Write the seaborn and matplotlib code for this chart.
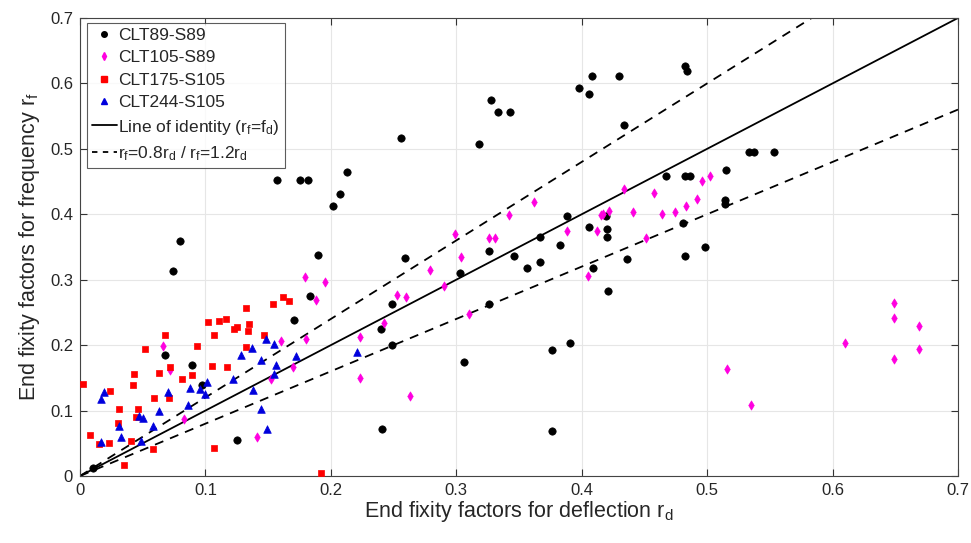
import numpy as np
import pandas as pd
import matplotlib
matplotlib.use("Agg")
import matplotlib.pyplot as plt
import seaborn as sns
from matplotlib.lines import Line2D

# ---- data ----
clt89_x = [0.010, 0.074, 0.080, 0.068, 0.089, 0.097, 0.171, 0.183, 0.190, 0.125,
           0.157, 0.175, 0.182, 0.213, 0.207, 0.202, 0.259, 0.249, 0.240, 0.249,
           0.241, 0.303, 0.326, 0.346, 0.356, 0.367, 0.367, 0.326, 0.306, 0.256,
           0.318, 0.328, 0.333, 0.343, 0.398, 0.388, 0.383, 0.408, 0.430, 0.406,
           0.482, 0.484, 0.434, 0.533, 0.537, 0.553, 0.515, 0.467, 0.482, 0.486,
           0.514, 0.514, 0.419, 0.406, 0.420, 0.420, 0.481, 0.436, 0.482, 0.498,
           0.409, 0.421, 0.376, 0.391, 0.376]
clt89_y = [0.012, 0.313, 0.359, 0.185, 0.170, 0.139, 0.238, 0.275, 0.338, 0.055,
           0.453, 0.453, 0.453, 0.464, 0.431, 0.413, 0.333, 0.263, 0.225, 0.200,
           0.072, 0.310, 0.344, 0.336, 0.318, 0.327, 0.365, 0.263, 0.174, 0.517,
           0.507, 0.574, 0.556, 0.556, 0.593, 0.398, 0.353, 0.611, 0.611, 0.584,
           0.627, 0.619, 0.537, 0.495, 0.495, 0.495, 0.467, 0.458, 0.458, 0.458,
           0.422, 0.416, 0.398, 0.381, 0.378, 0.365, 0.386, 0.331, 0.336, 0.350,
           0.318, 0.282, 0.192, 0.203, 0.069]

clt105_x = [0.066, 0.072, 0.083, 0.141, 0.152, 0.160, 0.170, 0.180, 0.179, 0.188,
            0.195, 0.242, 0.253, 0.223, 0.223, 0.260, 0.263, 0.279, 0.290, 0.299,
            0.304, 0.310, 0.326, 0.331, 0.342, 0.362, 0.388, 0.405, 0.412, 0.415,
            0.417, 0.422, 0.434, 0.441, 0.451, 0.458, 0.464, 0.474, 0.483, 0.492,
            0.496, 0.502, 0.516, 0.535, 0.610, 0.649, 0.649, 0.649, 0.669, 0.669]
clt105_y = [0.198, 0.162, 0.087, 0.060, 0.149, 0.207, 0.166, 0.210, 0.304, 0.269,
            0.297, 0.234, 0.277, 0.213, 0.150, 0.273, 0.122, 0.315, 0.291, 0.370,
            0.334, 0.248, 0.364, 0.364, 0.399, 0.419, 0.375, 0.305, 0.375, 0.399,
            0.401, 0.405, 0.438, 0.404, 0.364, 0.432, 0.401, 0.403, 0.413, 0.423,
            0.451, 0.458, 0.163, 0.109, 0.204, 0.265, 0.241, 0.179, 0.229, 0.194]

clt175_x = [0.002, 0.008, 0.015, 0.023, 0.024, 0.031, 0.030, 0.035, 0.042, 0.043,
            0.046, 0.045, 0.041, 0.052, 0.058, 0.059, 0.063, 0.068, 0.071, 0.072,
            0.081, 0.089, 0.093, 0.105, 0.102, 0.107, 0.107, 0.111, 0.116, 0.117,
            0.123, 0.125, 0.132, 0.132, 0.134, 0.135, 0.147, 0.154, 0.162, 0.167,
            0.192]
clt175_y = [0.141, 0.063, 0.049, 0.051, 0.130, 0.103, 0.081, 0.017, 0.139, 0.156,
            0.103, 0.090, 0.053, 0.194, 0.041, 0.119, 0.157, 0.215, 0.119, 0.167,
            0.149, 0.154, 0.198, 0.168, 0.236, 0.043, 0.216, 0.237, 0.240, 0.167,
            0.225, 0.228, 0.256, 0.197, 0.221, 0.233, 0.215, 0.263, 0.273, 0.268,
            0.004]

clt244_x = [0.017, 0.019, 0.017, 0.031, 0.033, 0.047, 0.050, 0.049, 0.058, 0.063,
            0.070, 0.086, 0.088, 0.096, 0.101, 0.100, 0.122, 0.128, 0.137, 0.138,
            0.144, 0.144, 0.148, 0.149, 0.155, 0.156, 0.155, 0.172, 0.221]
clt244_y = [0.118, 0.129, 0.052, 0.076, 0.060, 0.091, 0.089, 0.053, 0.076, 0.100,
            0.129, 0.108, 0.135, 0.133, 0.144, 0.125, 0.148, 0.185, 0.195, 0.131,
            0.177, 0.102, 0.210, 0.072, 0.201, 0.170, 0.156, 0.183, 0.189]

series_names = ["CLT89-S89", "CLT105-S89", "CLT175-S105", "CLT244-S105"]
xs = [clt89_x, clt105_x, clt175_x, clt244_x]
ys = [clt89_y, clt105_y, clt175_y, clt244_y]

x_ticks = [0, 0.1, 0.2, 0.3, 0.4, 0.5, 0.6, 0.7]
y_ticks = [0, 0.1, 0.2, 0.3, 0.4, 0.5, 0.6, 0.7]
ratio_lo, ratio_hi = 0.8, 1.2

df = pd.concat([pd.DataFrame({"rd": x, "rf": y, "series": n})
                for x, y, n in zip(xs, ys, series_names)], ignore_index=True)

# ---- style ----
sns.set_theme(style="white")
plt.rcParams["font.family"] = ["Liberation Sans", "DejaVu Sans"]

fig = plt.figure(figsize=(9.71, 5.43), dpi=100)
ax = fig.add_axes([0.0824, 0.1234, 0.9042, 0.8435])

palette = {"CLT89-S89": "#000000", "CLT105-S89": "#FF00E0",
           "CLT175-S105": "#FF0000", "CLT244-S105": "#0000DD"}
markers = {"CLT89-S89": "o", "CLT105-S89": "d",
           "CLT175-S105": "s", "CLT244-S105": "^"}
sizes_map = {"CLT89-S89": 28, "CLT105-S89": 22, "CLT175-S105": 16, "CLT244-S105": 30}

for n in series_names:
    sub = df[df["series"] == n]
    sns.scatterplot(data=sub, x="rd", y="rf", color=palette[n], marker=markers[n],
                    s=sizes_map[n], edgecolor=palette[n], linewidth=0.5, ax=ax,
                    legend=False, zorder=3)

line_x = np.array([0, 0.7])
ax.plot(line_x, line_x, color="black", lw=1.3, zorder=2)
ax.plot(line_x, ratio_lo * line_x, color="black", lw=1.3, ls=(0, (5, 4)), zorder=2)
ax.plot(line_x, ratio_hi * line_x, color="black", lw=1.3, ls=(0, (5, 4)), zorder=2)

ax.set_xlim(0, 0.7)
ax.set_ylim(0, 0.7)
ax.set_xticks(x_ticks)
ax.set_yticks(y_ticks)
ax.set_xticklabels([f"{v:g}" for v in x_ticks])
ax.set_yticklabels([f"{v:g}" for v in y_ticks])
ax.grid(True, color="#e6e6e6", lw=0.8)
ax.set_axisbelow(True)
for sp in ax.spines.values():
    sp.set_visible(True)
    sp.set_color("#444444")
    sp.set_linewidth(0.8)
ax.tick_params(axis="both", direction="in", length=5, width=0.8, colors="#333333",
               labelsize=12, top=True, right=True, bottom=True, left=True,
               labelcolor="#262626", pad=5)

ax.set_xlabel(r"End fixity factors for deflection r$\mathregular{_d}$", fontsize=15.5,
              color="#262626", labelpad=1)
ax.set_ylabel(r"End fixity factors for frequency r$\mathregular{_f}$", fontsize=15.5,
              color="#262626", labelpad=6)

handles = [Line2D([], [], ls="none", marker=markers[n], color=palette[n],
                  markersize=4, label=n)
           for n in series_names]
handles.append(Line2D([], [], color="black", lw=1.3,
                      label=r"Line of identity (r$\mathregular{_f}$=f$\mathregular{_d}$)"))
handles.append(Line2D([], [], color="black", lw=1.3, ls=(0, (3, 3)),
                      label=r"r$\mathregular{_f}$=0.8r$\mathregular{_d}$ / r$\mathregular{_f}$=1.2r$\mathregular{_d}$"))
leg = ax.legend(handles=handles, loc="upper left", fontsize=12.5, frameon=True,
                fancybox=False, edgecolor="#333333", handlelength=1.4,
                handletextpad=0.1, borderpad=0.3, labelspacing=0.42,
                borderaxespad=0, bbox_to_anchor=(0.008, 0.99))
leg.get_frame().set_linewidth(0.8)

fig.savefig("out.png", dpi=100)
